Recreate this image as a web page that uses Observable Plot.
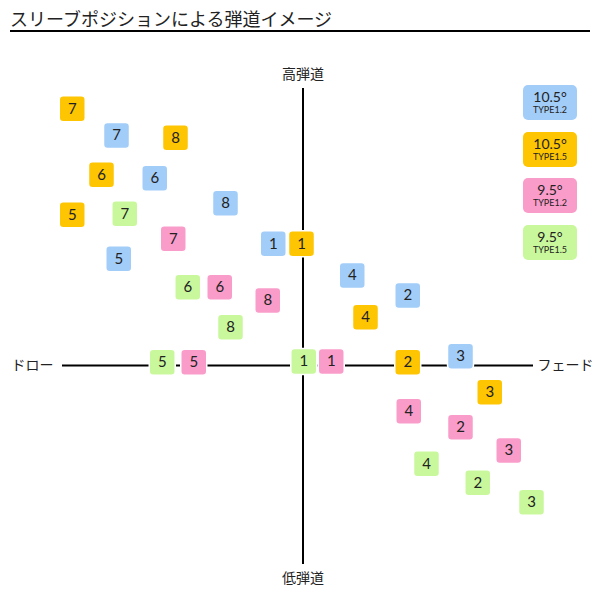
<!DOCTYPE html>
<html>
<head>
<meta charset="utf-8">
<script src="https://cdn.jsdelivr.net/npm/d3@7"></script>
<script src="https://cdn.jsdelivr.net/npm/@observablehq/plot@0.6"></script>
<style>
  html, body { margin: 0; padding: 0; background: #fff; }
  body { width: 600px; height: 600px; position: relative; overflow: hidden;
         font-family: "Noto Sans CJK JP", "Noto Sans", sans-serif; }
  #title { position: absolute; left: 10px; top: 6px; width: 580px; height: 24px;
           font-size: 18px; line-height: 24px; color: #222; border-bottom: 2px solid #000; }
  #chart { position: absolute; left: 0; top: 40px; }
  .leg { position: absolute; left: 523px; width: 54px; height: 35px; border-radius: 5px;
         text-align: center; color: #222; font-family: Lato, "Noto Sans", sans-serif; }
  .leg .a { font-size: 14px; line-height: 15px; margin-top: 4px; }
  .leg .b { font-size: 9px; line-height: 11px; }
</style>
</head>
<body>
<div id="title">スリーブポジションによる弾道イメージ</div>
<div id="chart"></div>
<div id="legend"></div>
<script>
// Series (legend labels)
const seriesLoft = ["10.5°", "10.5°", "9.5°", "9.5°"];
const seriesType = ["TYPE1.2", "TYPE1.5", "TYPE1.2", "TYPE1.5"];
const seriesColors = ["#a2cdf8", "#fdc502", "#f99cca", "#c9f89c"];
// Position numbers 1..8
const positions = [1, 2, 3, 4, 5, 6, 7, 8];
// x: draw(-) / fade(+), y: low(-) / high(+) trajectory, per position 1..8
const blueX   = [-1.19, 4.19, 6.30, 1.97, -7.37, -5.93, -7.46, -3.10];
const blueY   = [ 4.87, 2.80, 0.37, 3.60,  4.27,  7.49,  9.20,  6.49];
const orangeX = [-0.06, 4.19, 7.47, 2.50, -9.23, -8.06, -9.23, -5.10];
const orangeY = [ 4.87, 0.13, -1.07, 1.93, 6.03,  7.63, 10.27,  9.11];
const pinkX   = [ 1.13, 6.30, 8.23, 4.23, -4.37, -3.33, -5.19, -1.41];
const pinkY   = [ 0.16, -2.47, -3.40, -1.83, 0.13, 3.13, 5.07, 2.60];
const greenX  = [ 0.03, 6.99, 9.14, 4.94, -5.63, -4.61, -7.13, -2.90];
const greenY  = [ 0.16, -4.69, -5.47, -3.93, 0.13, 3.13, 6.07, 1.53];
// Axis extents and labels
const axisXExtent = [-9.62, 9.22];
const axisYExtent = [-7.96, 11.08];
const axisLabels = ["高弾道", "低弾道", "ドロー", "フェード"];

const xs = [blueX, orangeX, pinkX, greenX];
const ys = [blueY, orangeY, pinkY, greenY];
const data = [];
xs.forEach((sx, s) => positions.forEach((p, i) => data.push({series: s, pos: p, x: sx[i], y: ys[s][i]})));

const roundSquare = {
  draw(ctx, size) {
    const h = Math.sqrt(size / Math.PI), r = 4;
    ctx.moveTo(-h + r, -h);
    ctx.arcTo(h, -h, h, h, r);
    ctx.arcTo(h, h, -h, h, r);
    ctx.arcTo(-h, h, -h, -h, r);
    ctx.arcTo(-h, -h, h, -h, r);
    ctx.closePath();
  }
};

const labelData = [
  {t: axisLabels[0], x: 0, y: axisYExtent[1] + 0.56, a: "middle"},
  {t: axisLabels[1], x: 0, y: axisYExtent[0] - 0.56, a: "middle"},
  {t: axisLabels[2], x: axisXExtent[0] - 0.36, y: 0, a: "end"},
  {t: axisLabels[3], x: axisXExtent[1] + 0.16, y: 0, a: "start"}
];

const plot = Plot.plot({
  width: 600, height: 560,
  margin: 0,
  x: {domain: [-12.1, 11.9], axis: null},
  y: {domain: [-9.4, 13], axis: null},
  style: {fontFamily: "Lato, 'Noto Sans', sans-serif", background: "white"},
  marks: [
    Plot.ruleY([0], {x1: axisXExtent[0], x2: axisXExtent[1], stroke: "#000", strokeWidth: 2}),
    Plot.ruleX([0], {y1: axisYExtent[0], y2: axisYExtent[1], stroke: "#000", strokeWidth: 2}),
    Plot.text(labelData.filter(d => d.a === "middle"), {x: "x", y: "y", text: "t", textAnchor: "middle", fontSize: 14, fill: "#222", fontFamily: "Noto Sans CJK JP"}),
    Plot.text(labelData.filter(d => d.a === "end"), {x: "x", y: "y", text: "t", textAnchor: "end", fontSize: 14, fill: "#222", fontFamily: "Noto Sans CJK JP"}),
    Plot.text(labelData.filter(d => d.a === "start"), {x: "x", y: "y", text: "t", textAnchor: "start", fontSize: 14, fill: "#222", fontFamily: "Noto Sans CJK JP"}),
    Plot.dot(data, {x: "x", y: "y", r: 13, symbol: roundSquare, fill: d => seriesColors[d.series], stroke: "white", strokeWidth: 1.5}),
    Plot.text(data, {x: "x", y: "y", text: "pos", fontSize: 15, fill: "#222"})
  ]
});
document.getElementById("chart").appendChild(plot);

const leg = document.getElementById("legend");
seriesLoft.forEach((l, i) => {
  const d = document.createElement("div");
  d.className = "leg";
  d.style.top = (85 + i * 46.7) + "px";
  d.style.background = seriesColors[i];
  d.innerHTML = `<div class="a">${l}</div><div class="b">${seriesType[i]}</div>`;
  leg.appendChild(d);
});
</script>
</body>
</html>
